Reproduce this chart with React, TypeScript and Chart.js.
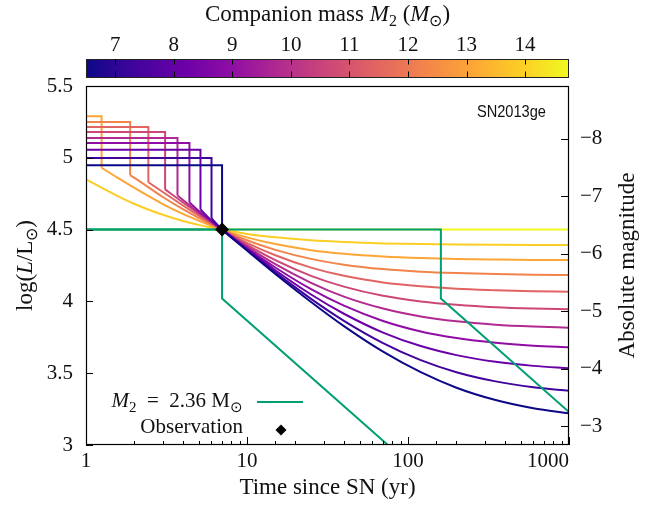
import React, { useEffect, useRef } from 'react';
import { Chart, registerables } from 'chart.js';

Chart.register(...registerables);

// ---------------- data ----------------
// time grid (yr) on which the companion-mass curves are read
const curveTimes = [1, 1.5, 2, 3, 4, 5, 6, 7, 10, 15, 25, 40, 70, 120, 200, 350, 600, 1000];

// curve colours, lowest companion mass (0) -> highest (10), plasma map
const massColors = ['#0d0887', '#41049d', '#6a00a8', '#8f0da4', '#b12a90', '#cc4778', '#e16462', '#f2844b', '#fca636', '#fcce25', '#f0f921'];

// early plateau of each curve (log L) and where it drops
const plateauLum = [4.948, 4.999, 5.056, 5.103, 5.138, 5.18, 5.214, 5.249, 5.289, null, null];
const dropTime = [7, 6.02, 5.14, 4.39, 3.7, 3.1, 2.44, 1.88, 1.25, null, null];
const dropLum = [4.5, 4.58, 4.64, 4.69, 4.737, 4.78, 4.83, 4.878, 4.93, null, null];

// log L after the drop, on curveTimes
const lumM0 = [null, null, null, null, null, null, null, 4.5, 4.354, 4.191, 3.996, 3.828, 3.65, 3.507, 3.399, 3.313, 3.256, 3.221];
const lumM1 = [null, null, null, null, null, null, null, 4.5, 4.358, 4.202, 4.018, 3.865, 3.71, 3.591, 3.507, 3.443, 3.402, 3.378];
const lumM2 = [null, null, null, null, null, null, 4.565, 4.5, 4.364, 4.217, 4.048, 3.914, 3.783, 3.689, 3.626, 3.579, 3.551, 3.535];
const lumM3 = [null, null, null, null, null, 4.632, 4.56, 4.5, 4.371, 4.236, 4.085, 3.97, 3.864, 3.791, 3.745, 3.712, 3.692, 3.681];
const lumM4 = [null, null, null, null, 4.706, 4.621, 4.554, 4.5, 4.381, 4.259, 4.129, 4.033, 3.95, 3.895, 3.861, 3.838, 3.825, 3.817];
const lumM5 = [null, null, null, null, 4.689, 4.611, 4.55, 4.5, 4.393, 4.287, 4.178, 4.103, 4.039, 4.0, 3.976, 3.959, 3.95, 3.945];
const lumM6 = [null, null, null, 4.762, 4.668, 4.598, 4.544, 4.5, 4.408, 4.321, 4.235, 4.178, 4.132, 4.105, 4.088, 4.078, 4.071, 4.068];
const lumM7 = [null, null, 4.86, 4.727, 4.642, 4.582, 4.536, 4.5, 4.426, 4.359, 4.296, 4.256, 4.225, 4.207, 4.197, 4.19, 4.186, 4.184];
const lumM8 = [null, 4.875, 4.79, 4.678, 4.609, 4.562, 4.527, 4.5, 4.446, 4.399, 4.357, 4.332, 4.313, 4.302, 4.296, 4.292, 4.289, 4.288];
const lumM9 = [4.85, 4.745, 4.678, 4.603, 4.56, 4.533, 4.514, 4.5, 4.47, 4.446, 4.425, 4.413, 4.404, 4.399, 4.396, 4.394, 4.393, 4.393];
const lumM10 = [4.5, 4.5, 4.5, 4.5, 4.5, 4.5, 4.5, 4.5, 4.5, 4.5, 4.5, 4.5, 4.5, 4.5, 4.5, 4.5, 4.5, 4.5];
const lumCurves = [lumM0, lumM1, lumM2, lumM3, lumM4, lumM5, lumM6, lumM7, lumM8, lumM9, lumM10];

// M2 = 2.36 Msun model (two branches)
const greenTimesA = [1, 160, 160, 1000];
const greenLumA = [4.5, 4.5, 4.02, 3.23];
const greenTimesB = [1, 7, 7, 75];
const greenLumB = [4.5, 4.5, 4.02, 3.0];
const greenColor = '#009e73';

// observation
const obsTime = 7;
const obsLum = 4.5;

// axes
const lumMin = 3;
const lumMax = 5.5;
const magSun = 4.83;
const massMin = 6.5;
const massMax = 14.75;

const SERIF = '"Liberation Serif", "Times New Roman", serif';

type Part = { t: string; it?: boolean; sub?: boolean };

function drawRich(ctx: CanvasRenderingContext2D, parts: Part[], x: number, y: number, size: number, align: 'left' | 'center' | 'right', rot = 0) {
  const fontOf = (p: Part) => `${p.it ? 'italic ' : ''}${p.sub ? Math.round(size * 0.7) : size}px ${SERIF}`;
  let total = 0;
  const widths = parts.map((p) => {
    ctx.font = fontOf(p);
    const w = ctx.measureText(p.t).width;
    total += w;
    return w;
  });
  ctx.save();
  ctx.translate(x, y);
  ctx.rotate(rot);
  ctx.textAlign = 'left';
  ctx.textBaseline = 'alphabetic';
  ctx.fillStyle = '#111';
  let cx = align === 'left' ? 0 : align === 'center' ? -total / 2 : -total;
  parts.forEach((p, i) => {
    ctx.font = fontOf(p);
    ctx.fillText(p.t, cx, p.sub ? size * 0.22 : 0);
    cx += widths[i];
  });
  ctx.restore();
}

const decorPlugin = {
  id: 'decor',
  afterDraw(chart: any) {
    const { ctx, chartArea: a, scales } = chart;
    const xs = scales.x, ys = scales.y, y2 = scales.y2, cb = scales.cb;
    ctx.save();
    ctx.strokeStyle = '#000';
    ctx.lineWidth = 1.2;
    const line = (x1: number, y1: number, x2: number, y2p: number) => {
      ctx.beginPath();
      ctx.moveTo(x1, y1);
      ctx.lineTo(x2, y2p);
      ctx.stroke();
    };
    // frame
    ctx.strokeRect(a.left + 0.5, a.top + 0.5, a.right - a.left - 1, a.bottom - a.top - 1);
    ctx.lineWidth = 1;
    // left ticks
    ys.ticks.forEach((t: any) => {
      const py = Math.round(ys.getPixelForValue(t.value)) + 0.5;
      line(a.left, py, a.left + 7, py);
    });
    // right ticks
    y2.ticks.forEach((t: any) => {
      const py = Math.round(y2.getPixelForValue(t.value)) + 0.5;
      line(a.right - 8, py, a.right, py);
    });
    // bottom ticks
    xs.ticks.forEach((t: any) => {
      const lg = Math.log10(t.value);
      const major = Math.abs(lg - Math.round(lg)) < 1e-6;
      const px = Math.round(xs.getPixelForValue(t.value)) + 0.5;
      line(px, a.bottom, px, a.bottom - (major ? 8 : 4));
    });

    // colour bar
    const cx0 = cb.getPixelForValue(massMin);
    const cx1 = cb.getPixelForValue(massMax);
    const cyTop = cb.bottom - 27;
    const cyBot = cb.bottom - 9;
    const grad = ctx.createLinearGradient(cx0, 0, cx1, 0);
    massColors.forEach((c, i) => grad.addColorStop(i / (massColors.length - 1), c));
    ctx.fillStyle = grad;
    ctx.fillRect(cx0, cyTop, cx1 - cx0, cyBot - cyTop);
    ctx.strokeStyle = '#222';
    ctx.strokeRect(cx0 + 0.5, cyTop + 0.5, cx1 - cx0 - 1, cyBot - cyTop);
    ctx.strokeStyle = '#000';
    cb.ticks.forEach((t: any) => {
      const px = Math.round(cb.getPixelForValue(t.value)) + 0.5;
      line(px, cyTop, px, cyTop + 5.5);
      line(px, cyBot - 5.5, px, cyBot);
    });

    // axis titles
    drawRich(ctx, [{ t: 'Companion mass ' }, { t: 'M', it: true }, { t: '2', sub: true }, { t: ' (' }, { t: 'M', it: true }, { t: '\u2299', sub: true }, { t: ')' }], (a.left + a.right) / 2, 21, 23, 'center');
    drawRich(ctx, [{ t: 'Time since SN (yr)' }], (a.left + a.right) / 2, 494, 23, 'center');
    drawRich(ctx, [{ t: 'log(' }, { t: 'L', it: true }, { t: '/L' }, { t: '\u2299', sub: true }, { t: ')' }], 32, (a.top + a.bottom) / 2, 23, 'center', -Math.PI / 2);
    drawRich(ctx, [{ t: 'Absolute magnitude' }], 634, (a.top + a.bottom) / 2, 23, 'center', -Math.PI / 2);

    // label (condensed sans)
    ctx.save();
    ctx.translate(546, 117);
    ctx.scale(0.86, 1);
    ctx.font = `17px "Liberation Sans", Arial, sans-serif`;
    ctx.fillStyle = '#111';
    ctx.textAlign = 'right';
    ctx.textBaseline = 'alphabetic';
    ctx.fillText('SN2013ge', 0, 0);
    ctx.restore();

    // legend
    drawRich(ctx, [{ t: 'M', it: true }, { t: '2', sub: true }, { t: '\u2002=\u20022.36 M' }, { t: '\u2299', sub: true }], 243, 407, 21, 'right');
    ctx.strokeStyle = greenColor;
    ctx.lineWidth = 2;
    line(257, 402, 303, 402);
    drawRich(ctx, [{ t: 'Observation' }], 243, 433, 21, 'right');
    ctx.fillStyle = '#000';
    ctx.beginPath();
    ctx.moveTo(281 - 5.5, 430);
    ctx.lineTo(281, 430 - 5.5);
    ctx.lineTo(281 + 5.5, 430);
    ctx.lineTo(281, 430 + 5.5);
    ctx.closePath();
    ctx.fill();
    ctx.restore();
  },
};

function buildDatasets() {
  const ds: any[] = [];
  ds.push({
    label: 'Observation',
    data: [{ x: obsTime, y: obsLum }],
    showLine: false,
    pointStyle: 'rectRot',
    pointRadius: 7,
    pointHoverRadius: 7,
    backgroundColor: '#000',
    borderColor: '#000',
    borderWidth: 0,
    order: 0,
    xAxisID: 'x',
    yAxisID: 'y',
  });
  const green = (ts: number[], ls: number[], label: string) => ({
    label,
    data: ts.map((t, i) => ({ x: t, y: ls[i] })),
    borderColor: greenColor,
    borderWidth: 2,
    pointRadius: 0,
    tension: 0,
    order: 1,
    xAxisID: 'x',
    yAxisID: 'y',
  });
  ds.push(green(greenTimesA, greenLumA, 'M2 = 2.36 A'));
  ds.push(green(greenTimesB, greenLumB, 'M2 = 2.36 B'));

  lumCurves.forEach((vals, c) => {
    const color = massColors[c];
    const p = plateauLum[c];
    const td = dropTime[c];
    const dl = dropLum[c];
    const decay: any[] = [];
    if (p !== null && td !== null && dl !== null) {
      ds.push({
        label: 'plateau ' + c,
        data: [{ x: 1, y: p }, { x: td, y: p }, { x: td, y: dl }],
        borderColor: color,
        borderWidth: 2,
        pointRadius: 0,
        tension: 0,
        order: 2,
        xAxisID: 'x',
        yAxisID: 'y',
      });
      decay.push({ x: td, y: dl });
      curveTimes.forEach((t, i) => {
        if (t > td && vals[i] !== null) decay.push({ x: t, y: vals[i] });
      });
    } else {
      curveTimes.forEach((t, i) => {
        if (vals[i] !== null) decay.push({ x: t, y: vals[i] });
      });
    }
    ds.push({
      label: 'curve ' + c,
      data: decay,
      borderColor: color,
      borderWidth: 2,
      pointRadius: 0,
      cubicInterpolationMode: 'monotone',
      order: 2,
      xAxisID: 'x',
      yAxisID: 'y',
    });
  });
  return ds;
}

export default function App() {
  const ref = useRef<HTMLCanvasElement | null>(null);
  useEffect(() => {
    if (!ref.current) return;
    const tickFont = { family: SERIF, size: 21 };
    const chart = new Chart(ref.current, {
      type: 'line',
      data: { datasets: buildDatasets() },
      options: {
        responsive: false,
        devicePixelRatio: 1,
        animation: false,
        events: [],
        layout: { padding: 0 },
        plugins: { legend: { display: false }, tooltip: { enabled: false }, title: { display: false } },
        scales: {
          x: {
            type: 'logarithmic',
            position: 'bottom',
            min: 1,
            max: 1000,
            grid: { display: false, drawTicks: false },
            border: { display: false },
            ticks: {
              autoSkip: false,
              maxRotation: 0,
              padding: 4,
              color: '#111',
              font: tickFont,
              callback: (v: any) => {
                const n = Number(v);
                const lg = Math.log10(n);
                if (Math.abs(lg - Math.round(lg)) > 1e-6) return '';
                const s = String(Math.round(n));
                // last label sits inside the right edge
                return n >= 1000 ? s + '\u2007\u2007\u2007\u2007' : s;
              },
            },
            afterFit: (s: any) => {
              s.height = 60;
            },
          },
          cb: {
            type: 'linear',
            position: 'top',
            axis: 'x',
            min: massMin,
            max: massMax,
            grid: { display: false, drawTicks: false },
            border: { display: false },
            ticks: { stepSize: 1, includeBounds: false, padding: 28, color: '#111', font: tickFont, maxRotation: 0, autoSkip: false },
            afterFit: (s: any) => {
              s.height = 86;
            },
          },
          y: {
            type: 'linear',
            position: 'left',
            min: lumMin,
            max: lumMax,
            grid: { display: false, drawTicks: false },
            border: { display: false },
            ticks: {
              stepSize: 0.5,
              padding: 13,
              color: '#111',
              font: tickFont,
              callback: (v: any) => String(Math.round(Number(v) * 10) / 10),
            },
            afterFit: (s: any) => {
              s.width = 86;
            },
          },
          y2: {
            type: 'linear',
            position: 'right',
            reverse: true,
            min: magSun - 2.5 * lumMax,
            max: magSun - 2.5 * lumMin,
            grid: { display: false, drawTicks: false },
            border: { display: false },
            ticks: {
              stepSize: 1,
              includeBounds: false,
              padding: 11,
              color: '#111',
              font: tickFont,
              callback: (v: any) => {
                const n = Math.round(Number(v));
                return n < 0 ? '\u2212' + Math.abs(n) : String(n);
              },
            },
            afterFit: (s: any) => {
              s.width = 91;
            },
          },
        },
      } as any,
      plugins: [decorPlugin],
    });
    return () => chart.destroy();
  }, []);
  return (
    <canvas
      ref={ref}
      width={660}
      height={505}
      style={{ position: 'absolute', left: 0, top: 0, width: 660, height: 505 }}
    />
  );
}
